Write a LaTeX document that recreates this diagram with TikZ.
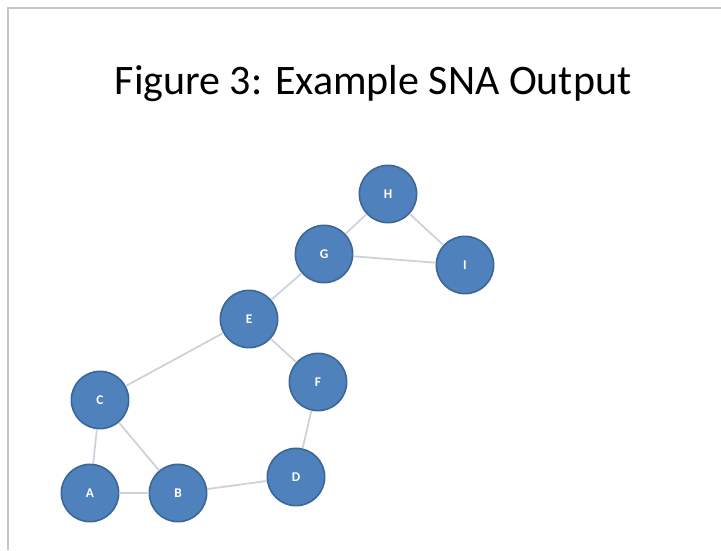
\documentclass[tikz,border=0pt]{standalone}
\usepackage{fontspec}
\setmainfont{Carlito}
\definecolor{nodeblue}{HTML}{4F81BD}
\definecolor{nodeline}{HTML}{3A6796}
\definecolor{tiegrey}{HTML}{CBD2DA}
\tikzset{
  actor/.style={circle,fill=nodeblue,draw=nodeline,line width=1.2pt,minimum size=43pt,inner sep=0pt,text=white,font=\fontsize{10}{12}\selectfont\bfseries},
  tie/.style={draw=tiegrey,line width=1.3pt}
}
\begin{document}
\begin{tikzpicture}[x=0.75pt,y=-0.75pt]
    \useasboundingbox (0,0) rectangle (721,550);
    \fill[white] (0,0) rectangle (721,550);
    % slide frame
    \draw[gray!45,line width=1.5pt] (8,550) -- (8,8) -- (721,8);
    \node (title) at (373,84) {\fontsize{31.5}{36}\selectfont Figure 3: Example SNA Output};

    % actors
    \node[actor] (H) at (388,194) {H};
    \node[actor] (G) at (324,254) {G};
    \node[actor] (I) at (465,265) {I};
    \node[actor] (E) at (249,319) {E};
    \node[actor] (F) at (318,382) {F};
    \node[actor] (C) at (100,400) {C};
    \node[actor] (D) at (296,477) {D};
    \node[actor] (A) at (90,493) {A};
    \node[actor] (B) at (178,493) {B};

    % ties
    \foreach \u/\v in {H/G,H/I,G/I,G/E,E/C,E/F,F/D,D/B,C/A,C/B,A/B}
        \path[tie] (\u) -- (\v);
\end{tikzpicture}
\end{document}
